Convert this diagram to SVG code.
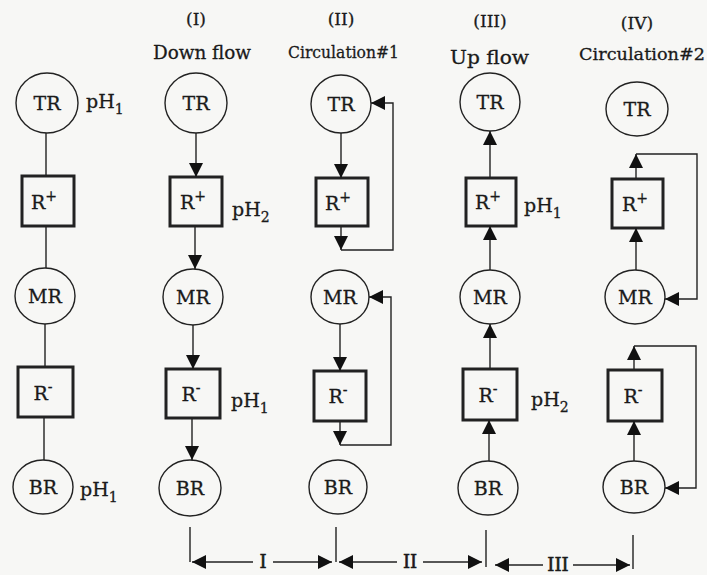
<svg xmlns="http://www.w3.org/2000/svg" width="707" height="575" viewBox="0 0 707 575">
  <defs>
    <marker id="ah" viewBox="0 0 14 14" refX="14" refY="7" markerWidth="14" markerHeight="14" markerUnits="userSpaceOnUse" orient="auto">
      <path d="M0,0 L14,7 L0,14 z" fill="#111"/>
    </marker>
    <style>
      .bg { fill: #f7f7f5; }
      .res { fill: none; stroke: #222; stroke-width: 1.4; }
      .col { fill: none; stroke: #222; stroke-width: 3; }
      text { font-family: "DejaVu Serif", "Liberation Serif", serif; fill: #1a1a1a; stroke: #1a1a1a; stroke-width: 0.3; }
      .lbl { font-size: 19px; text-anchor: middle; }
      .ph { font-size: 19px; }
      .hd { font-size: 17px; }
      .hd2 { font-size: 18px; }
      .iv { font-size: 18px; text-anchor: middle; stroke-width: 0.6; }
      .sup { font-size: 14px; }
      .sub { font-size: 14px; }
      .ln { fill: none; stroke: #222; stroke-width: 1.4; }
      .arr { fill: none; stroke: #222; stroke-width: 1.4; marker-end: url(#ah); }
    </style>
  </defs>

  <rect class="bg" x="0" y="0" width="707" height="575"/>

  <!-- stage headings -->
  <g id="headings">
    <text class="hd" x="196" y="25" text-anchor="middle">(I)</text>
    <text class="hd2" x="153" y="59" textLength="98" lengthAdjust="spacingAndGlyphs">Down flow</text>
    <text class="hd" x="341" y="25" text-anchor="middle">(II)</text>
    <text class="hd" x="288" y="58" textLength="111" lengthAdjust="spacingAndGlyphs">Circulation#1</text>
    <text class="hd" x="490" y="27" text-anchor="middle">(III)</text>
    <text class="hd2" x="450" y="64" textLength="79" lengthAdjust="spacingAndGlyphs">Up flow</text>
    <text class="hd" x="637" y="29" text-anchor="middle">(IV)</text>
    <text class="hd" x="579" y="60" textLength="126" lengthAdjust="spacingAndGlyphs">Circulation#2</text>
  </g>

  <!-- column 0: initial state -->
  <g id="c0-tr"><ellipse class="res" cx="47" cy="103" rx="31" ry="30"/><text class="lbl" x="47" y="110">TR</text></g>
  <g id="c0-rp"><rect class="col" x="22" y="176" width="52" height="50"/><text class="lbl" x="44" y="209">R<tspan class="sup" dy="-8">+</tspan></text></g>
  <g id="c0-mr"><ellipse class="res" cx="45" cy="296" rx="30" ry="28"/><text class="lbl" x="45" y="303">MR</text></g>
  <g id="c0-rm"><rect class="col" x="18" y="367" width="55" height="50"/><text class="lbl" x="43" y="400">R<tspan class="sup" dy="-8">-</tspan></text></g>
  <g id="c0-br"><ellipse class="res" cx="43" cy="487" rx="30" ry="27"/><text class="lbl" x="43" y="494">BR</text></g>
  <g id="c0-ph">
    <text class="ph" x="86" y="108">pH<tspan class="sub" dy="6">1</tspan></text>
    <text class="ph" x="80" y="496">pH<tspan class="sub" dy="6">1</tspan></text>
  </g>

  <!-- column I: down flow -->
  <g id="c1-tr"><ellipse class="res" cx="196" cy="103" rx="31" ry="30"/><text class="lbl" x="196" y="110">TR</text></g>
  <g id="c1-rp"><rect class="col" x="170" y="177" width="52" height="49"/><text class="lbl" x="193" y="209">R<tspan class="sup" dy="-8">+</tspan></text></g>
  <g id="c1-mr"><ellipse class="res" cx="193" cy="297" rx="30" ry="28"/><text class="lbl" x="193" y="304">MR</text></g>
  <g id="c1-rm"><rect class="col" x="166" y="369" width="54" height="49"/><text class="lbl" x="191" y="401">R<tspan class="sup" dy="-8">-</tspan></text></g>
  <g id="c1-br"><ellipse class="res" cx="190" cy="488" rx="31" ry="28"/><text class="lbl" x="190" y="495">BR</text></g>
  <g id="c1-ph">
    <text class="ph" x="232" y="216">pH<tspan class="sub" dy="6">2</tspan></text>
    <text class="ph" x="231" y="407">pH<tspan class="sub" dy="6">1</tspan></text>
  </g>

  <!-- column II: circulation #1 -->
  <g id="c2-tr"><ellipse class="res" cx="341" cy="104" rx="30" ry="29"/><text class="lbl" x="341" y="111">TR</text></g>
  <g id="c2-rp"><rect class="col" x="316" y="178" width="52" height="48"/><text class="lbl" x="338" y="210">R<tspan class="sup" dy="-8">+</tspan></text></g>
  <g id="c2-mr"><ellipse class="res" cx="340" cy="297" rx="29" ry="27"/><text class="lbl" x="340" y="304">MR</text></g>
  <g id="c2-rm"><rect class="col" x="314" y="371" width="52" height="50"/><text class="lbl" x="338" y="403">R<tspan class="sup" dy="-8">-</tspan></text></g>
  <g id="c2-br"><ellipse class="res" cx="338" cy="487" rx="29" ry="27"/><text class="lbl" x="338" y="494">BR</text></g>

  <!-- column III: up flow -->
  <g id="c3-tr"><ellipse class="res" cx="490" cy="102" rx="30" ry="29"/><text class="lbl" x="490" y="109">TR</text></g>
  <g id="c3-rp"><rect class="col" x="466" y="178" width="50" height="48"/><text class="lbl" x="488" y="209">R<tspan class="sup" dy="-8">+</tspan></text></g>
  <g id="c3-mr"><ellipse class="res" cx="490" cy="297" rx="30" ry="27"/><text class="lbl" x="490" y="304">MR</text></g>
  <g id="c3-rm"><rect class="col" x="463" y="369" width="54" height="51"/><text class="lbl" x="488" y="402">R<tspan class="sup" dy="-8">-</tspan></text></g>
  <g id="c3-br"><ellipse class="res" cx="488" cy="488" rx="30" ry="27"/><text class="lbl" x="488" y="495">BR</text></g>
  <g id="c3-ph">
    <text class="ph" x="524" y="212">pH<tspan class="sub" dy="6">1</tspan></text>
    <text class="ph" x="531" y="406">pH<tspan class="sub" dy="6">2</tspan></text>
  </g>

  <!-- column IV: circulation #2 -->
  <g id="c4-tr"><ellipse class="res" cx="637" cy="109" rx="31" ry="27"/><text class="lbl" x="637" y="116">TR</text></g>
  <g id="c4-rp"><rect class="col" x="612" y="179" width="51" height="49"/><text class="lbl" x="635" y="211">R<tspan class="sup" dy="-8">+</tspan></text></g>
  <g id="c4-mr"><ellipse class="res" cx="635" cy="297" rx="30" ry="27"/><text class="lbl" x="635" y="304">MR</text></g>
  <g id="c4-rm"><rect class="col" x="608" y="370" width="54" height="51"/><text class="lbl" x="633" y="403">R<tspan class="sup" dy="-8">-</tspan></text></g>
  <g id="c4-br"><ellipse class="res" cx="634" cy="487" rx="31" ry="26"/><text class="lbl" x="634" y="494">BR</text></g>

  <!-- connectors -->
  <g id="connectors">
    <!-- column 0: plain links -->
    <path class="ln" d="M46,133 V176 M46,226 V268 M45,324 V367 M44,417 V460"/>

    <!-- column I: downward flow -->
    <path class="arr" d="M196,133 V177"/>
    <path class="arr" d="M195,226 V269"/>
    <path class="arr" d="M193,325 V369"/>
    <path class="arr" d="M192,418 V460"/>

    <!-- column II: TR -> R+ and loop back to TR -->
    <path class="arr" d="M341,133 V178"/>
    <path class="arr" d="M341,226 V250"/>
    <path class="arr" d="M341,250 H393 V103 H371"/>
    <!-- column II: MR -> R- and loop back to MR -->
    <path class="arr" d="M340,324 V371"/>
    <path class="arr" d="M340,421 V445"/>
    <path class="arr" d="M340,445 H391 V297 H369"/>

    <!-- column III: upward flow -->
    <path class="arr" d="M490,178 V131"/>
    <path class="arr" d="M490,270 V226"/>
    <path class="arr" d="M490,369 V324"/>
    <path class="arr" d="M489,461 V420"/>

    <!-- column IV: MR -> R+ and loop back to MR -->
    <path class="arr" d="M636,270 V228"/>
    <path class="arr" d="M636,179 V154"/>
    <path class="arr" d="M636,154 H697 V299 H665"/>
    <!-- column IV: BR -> R- and loop back to BR -->
    <path class="arr" d="M634,461 V421"/>
    <path class="arr" d="M634,370 V346"/>
    <path class="arr" d="M634,346 H696 V488 H665"/>

    <!-- stage interval markers -->
    <path class="ln" d="M190,527 V562 M336,527 V562 M486,530 V567 M633,535 V569"/>
    <path class="arr" d="M253,562 H192"/>
    <path class="arr" d="M273,562 H332"/>
    <path class="arr" d="M397,562 H339"/>
    <path class="arr" d="M423,562 H482"/>
    <path class="arr" d="M543,565 H495"/>
    <path class="arr" d="M573,565 H630"/>
  </g>

  <g id="interval-labels">
    <text class="iv" x="263" y="568">I</text>
    <text class="iv" x="410" y="568">II</text>
    <text class="iv" x="558" y="571">III</text>
  </g>
</svg>
